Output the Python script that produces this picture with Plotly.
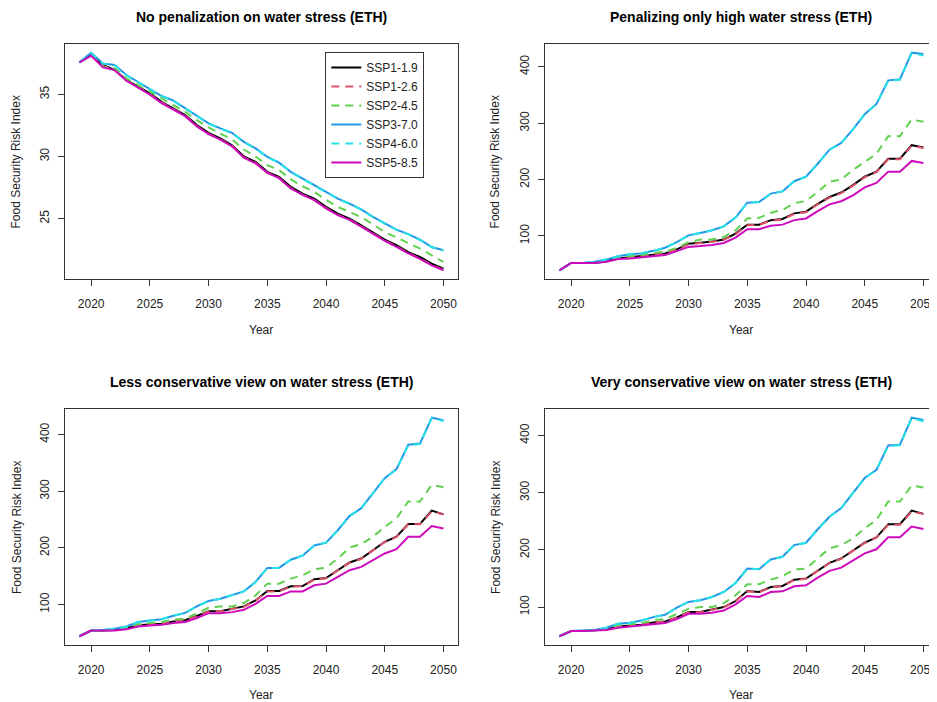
import plotly.graph_objects as go

years = list(range(2019, 2051))
scenarios = ["SSP1-1.9", "SSP1-2.6", "SSP2-4.5", "SSP3-7.0", "SSP4-6.0", "SSP5-8.5"]
panel_titles = [
    "No penalization on water stress (ETH)",
    "Penalizing only high water stress (ETH)",
    "Less conservative view on water stress (ETH)",
    "Very conservative view on water stress (ETH)",
]
x_ticks = [2020, 2025, 2030, 2035, 2040, 2045, 2050]

# Panel 1: no penalization
p1_ssp119 = [37.58, 38.17, 37.37, 36.96, 36.16, 35.60, 35.08, 34.40, 33.87, 33.33, 32.53, 31.90, 31.45, 30.90, 30.00, 29.57, 28.76, 28.36, 27.55, 27.00, 26.60, 25.94, 25.40, 25.00, 24.46, 23.90, 23.30, 22.85, 22.30, 21.90, 21.37, 20.97]
p1_ssp126 = [37.58, 38.15, 37.30, 36.95, 36.12, 35.55, 35.02, 34.35, 33.82, 33.28, 32.45, 31.82, 31.38, 30.85, 29.92, 29.48, 28.70, 28.28, 27.45, 26.92, 26.50, 25.85, 25.30, 24.92, 24.38, 23.80, 23.22, 22.75, 22.22, 21.78, 21.25, 20.88]
p1_ssp245 = [37.58, 38.25, 37.23, 37.10, 36.30, 35.75, 35.20, 34.68, 34.14, 33.60, 32.93, 32.34, 31.85, 31.37, 30.56, 30.00, 29.30, 28.90, 28.15, 27.60, 27.15, 26.50, 25.94, 25.54, 25.10, 24.54, 23.90, 23.47, 23.04, 22.58, 22.04, 21.50]
p1_ssp370 = [37.58, 38.36, 37.50, 37.37, 36.56, 36.00, 35.48, 34.87, 34.50, 33.87, 33.25, 32.66, 32.26, 31.90, 31.18, 30.65, 29.97, 29.50, 28.76, 28.20, 27.70, 27.15, 26.60, 26.20, 25.73, 25.13, 24.60, 24.10, 23.74, 23.30, 22.70, 22.45]
p1_ssp460 = [37.58, 38.34, 37.48, 37.35, 36.55, 35.98, 35.46, 34.86, 34.48, 33.85, 33.23, 32.64, 32.25, 31.88, 31.16, 30.63, 29.95, 29.49, 28.74, 28.19, 27.68, 27.13, 26.58, 26.19, 25.71, 25.11, 24.58, 24.08, 23.72, 23.28, 22.69, 22.43]
p1_ssp585 = [37.58, 38.12, 37.18, 36.96, 36.10, 35.52, 34.98, 34.30, 33.80, 33.25, 32.42, 31.80, 31.35, 30.82, 29.90, 29.45, 28.68, 28.25, 27.42, 26.90, 26.48, 25.82, 25.28, 24.90, 24.35, 23.78, 23.20, 22.72, 22.20, 21.75, 21.22, 20.83]

# Panel 2: penalizing only high water stress
p2_ssp119 = [39, 52, 52, 52, 55, 60, 62, 64, 67, 69, 76, 86, 88, 90, 93.5, 104, 120, 120, 128, 130, 140, 143, 157, 169, 177, 190, 205, 214, 237, 237, 261, 257]
p2_ssp126 = [39, 52, 52, 52, 55, 60, 62, 64, 67, 69, 76, 85, 87.5, 89.5, 93, 103, 119, 119.5, 127, 129, 139, 142, 156, 168, 176, 189, 204, 213, 236, 236, 260, 256]
p2_ssp245 = [39, 52, 52, 53, 56, 61, 64, 66, 70, 72, 79, 89, 93.5, 93.5, 98, 110, 131, 132, 141, 146, 158, 162, 178, 196, 200, 217, 231, 246, 277, 277, 306.5, 302.5]
p2_ssp370 = [39, 52, 52, 54, 58, 64, 67.5, 69, 73.5, 79, 89, 101, 105, 110, 117, 132.5, 159, 160, 175, 179, 197, 205, 228, 253, 265, 289, 316, 334, 376, 378, 425, 422.5]
p2_ssp460 = [39, 52, 52, 54, 58, 64, 67.5, 69, 73.5, 79, 89, 101, 105, 110, 117, 132.5, 159, 160, 175, 179, 197, 205, 228, 253, 265, 289, 316, 334, 375, 377, 424, 420]
p2_ssp585 = [39, 52, 52, 52, 54, 59, 60, 62, 65, 66, 73, 80.5, 82, 84, 87.5, 97, 112, 112, 118, 120, 128, 131, 144, 156, 161.5, 172, 186, 194, 214, 214, 233, 229.5]

# Panel 3: less conservative view
p3_ssp119 = [43.8, 54, 54, 55, 58, 63, 65, 66, 70, 72, 79.5, 88, 88, 92, 96.5, 107, 123.7, 123.7, 132, 132.5, 144.4, 146.7, 160, 174, 181, 196, 210.6, 219.5, 242, 242, 265.7, 259]
p3_ssp126 = [43.8, 54, 54, 55, 58, 63, 65, 66, 70, 72, 79, 87.5, 88, 91.5, 96, 106.5, 123, 123, 131.5, 132, 144, 146, 159.5, 173.5, 180.5, 195.5, 210, 219, 241.5, 241.5, 264, 259]
p3_ssp245 = [43.8, 54, 55, 56, 59, 65, 67, 69, 73, 75, 84, 94, 96.5, 96.5, 102.4, 116, 136.7, 136.7, 145.6, 151.5, 162, 165, 181, 200.6, 206.5, 219.5, 237, 252, 281.7, 281.7, 311, 307]
p3_ssp370 = [43.8, 54, 55, 57, 61, 69, 71.6, 74, 80, 85, 96.5, 106, 110, 116, 123, 139.6, 164.5, 164.5, 179, 186, 204, 209, 231, 256, 270, 296.5, 323, 339, 382, 384, 429.6, 425.4]
p3_ssp460 = [43.8, 54, 55, 57, 61, 69, 71.6, 74, 80, 85, 96.5, 106, 110, 116, 123, 139.6, 164.5, 164.5, 179, 186, 204, 209, 231, 256, 270, 296.5, 323, 339, 381, 383, 429, 424]
p3_ssp585 = [43.8, 54, 54, 54, 56, 61, 63, 64, 67, 69, 76, 84.6, 84.6, 86.4, 90.5, 101, 115, 115, 123, 123, 133.7, 136.7, 148.5, 160.4, 166.3, 178, 190, 197.6, 219.5, 219.5, 238.5, 234]

# Panel 4: very conservative view
p4_ssp119 = [49, 58, 58, 59, 61, 66, 68, 69, 73, 75, 82, 91.3, 91.3, 95.4, 100, 110.6, 128, 126.4, 135, 137, 148, 150, 164.5, 177.4, 185, 198.5, 212.5, 222, 244.8, 244.8, 268.8, 263]
p4_ssp126 = [49, 58, 58, 59, 61, 66, 68, 69, 73, 75, 81.5, 91, 91, 95, 99.5, 110, 127.5, 126, 134.5, 136.5, 147.5, 149.5, 164, 177, 184.5, 198, 212, 221.5, 244, 244, 267, 262.5]
p4_ssp245 = [49, 58, 58.5, 59.5, 62, 68, 70, 72, 77, 79, 88, 97, 100, 100, 107, 120.6, 140, 140, 148, 154, 165.7, 167.4, 185, 202.6, 208.4, 220, 237.7, 252.4, 284.6, 284.6, 312.7, 309]
p4_ssp370 = [49, 58, 59, 60, 64, 71, 72.5, 76.6, 82.5, 86.6, 99, 109, 112, 117.6, 126.4, 142.2, 167.4, 166.3, 183.3, 188, 208.4, 212.5, 236, 258, 273, 299, 325.6, 340, 382.4, 384, 431, 427]
p4_ssp460 = [49, 58, 59, 60, 64, 71, 72.5, 76.6, 82.5, 86.6, 99, 109, 112, 117.6, 126.4, 142.2, 167.4, 166.3, 183.3, 188, 208.4, 212.5, 236, 258, 273, 299, 325.6, 340, 381.5, 383, 430, 425]
p4_ssp585 = [49, 58, 58, 58.5, 60, 64, 66, 67, 70, 72, 79, 88.3, 88.3, 90, 94, 104.7, 119.4, 117.6, 126.4, 127.6, 136.4, 138, 151.6, 163.3, 169, 181, 194, 201, 222, 222, 240.7, 236.6]

panels = [
    [p1_ssp119, p1_ssp126, p1_ssp245, p1_ssp370, p1_ssp460, p1_ssp585],
    [p2_ssp119, p2_ssp126, p2_ssp245, p2_ssp370, p2_ssp460, p2_ssp585],
    [p3_ssp119, p3_ssp126, p3_ssp245, p3_ssp370, p3_ssp460, p3_ssp585],
    [p4_ssp119, p4_ssp126, p4_ssp245, p4_ssp370, p4_ssp460, p4_ssp585],
]

colors = ["#000000", "#DF536B", "#61D04F", "#2297E6", "#28E2E5", "#CD0BBC"]
dashes = ["solid", "8px,6px", "8px,6px", "solid", "8px,6px", "solid"]

# page body has an 8px margin; layout in screen pixels, converted to figure coords
OFF = 8
SW, SH = 937, 702
W, H = SW - OFF, SH - OFF
FONT = "Liberation Sans, Arial, sans-serif"


def px(X):
    return (X - OFF) / W


def py(Y):
    return 1 - (Y - OFF) / H


# screen pixel boxes: (left, right, top, bottom)
boxes = [
    (65, 459, 44, 279),
    (546, 940, 44, 279),
    (65, 459, 409, 645),
    (546, 940, 409, 645),
]
ytitle_x = [17, 497, 17, 497]
xtitle_y = [330, 330, 695, 695]
title_y = [17, 17, 382, 382]

fig = go.Figure()
ann = []
layout = {}
xr_lo = years[0] - 0.04 * (years[-1] - years[0])
xr_hi = years[-1] + 0.04 * (years[-1] - years[0])
for i, series in enumerate(panels):
    n = "" if i == 0 else str(i + 1)
    l, r, t, b = boxes[i]
    per = (r - l) / (xr_hi - xr_lo)
    r_eff = min(r, SW)
    x_hi = xr_lo + (r_eff - l) / per
    for j, s in enumerate(series):
        fig.add_trace(go.Scatter(
            x=years, y=s, mode="lines", name=scenarios[j],
            line=dict(color=colors[j], width=2, dash=dashes[j]),
            xaxis="x" + n, yaxis="y" + n, showlegend=(i == 0),
        ))
    ymin = min(min(s) for s in series)
    ymax = max(max(s) for s in series)
    pad = 0.04 * (ymax - ymin)
    dtick = 5 if ymax < 100 else 100
    right_cut = r > SW
    layout["xaxis" + n] = dict(
        domain=[px(l), min(px(r_eff), 1)], anchor="y" + n, range=[xr_lo, x_hi],
        tickmode="array", tickvals=x_ticks, ticks="outside", ticklen=6,
        ticklabelstandoff=8, ticklabeloverflow="allow",
        tickcolor="#333", showline=True, linecolor="#333", linewidth=1, mirror=True,
        showgrid=False, zeroline=False,
        tickfont=dict(family=FONT, size=12, color="#222"),
    )
    layout["yaxis" + n] = dict(
        domain=[py(b), py(t)], anchor="x" + n, range=[ymin - pad, ymax + pad],
        dtick=dtick, tick0=0, ticks="outside", ticklen=6, tickangle=-90,
        ticklabelstandoff=4,
        tickcolor="#333", showline=True, linecolor="#333", linewidth=1,
        mirror=(not right_cut), showgrid=False, zeroline=False,
        tickfont=dict(family=FONT, size=12, color="#222"),
    )
    cx = (l + r) / 2
    ann.append(dict(text="<b>" + panel_titles[i] + "</b>", x=px(cx), y=py(title_y[i]),
                    xref="paper", yref="paper", xanchor="center", yanchor="middle",
                    showarrow=False, font=dict(family=FONT, size=14, color="#000")))
    ann.append(dict(text="Year", x=px(cx), y=py(xtitle_y[i]),
                    xref="paper", yref="paper", xanchor="center", yanchor="middle",
                    showarrow=False, font=dict(family=FONT, size=12, color="#222")))
    ann.append(dict(text="Food Security Risk Index", x=px(ytitle_x[i]), y=py((t + b) / 2),
                    xref="paper", yref="paper", xanchor="center", yanchor="middle",
                    showarrow=False, textangle=-90,
                    font=dict(family=FONT, size=12, color="#222")))

fig.update_layout(
    width=W, height=H, margin=dict(l=0, r=0, t=0, b=0),
    paper_bgcolor="white", plot_bgcolor="white",
    annotations=ann,
    legend=dict(x=px(326), y=py(52), xanchor="left", yanchor="top",
                bordercolor="#333", borderwidth=1, bgcolor="white",
                font=dict(family=FONT, size=12, color="#222"),
                tracegroupgap=0, itemwidth=30),
    **layout,
)
fig.write_html("out.html")
